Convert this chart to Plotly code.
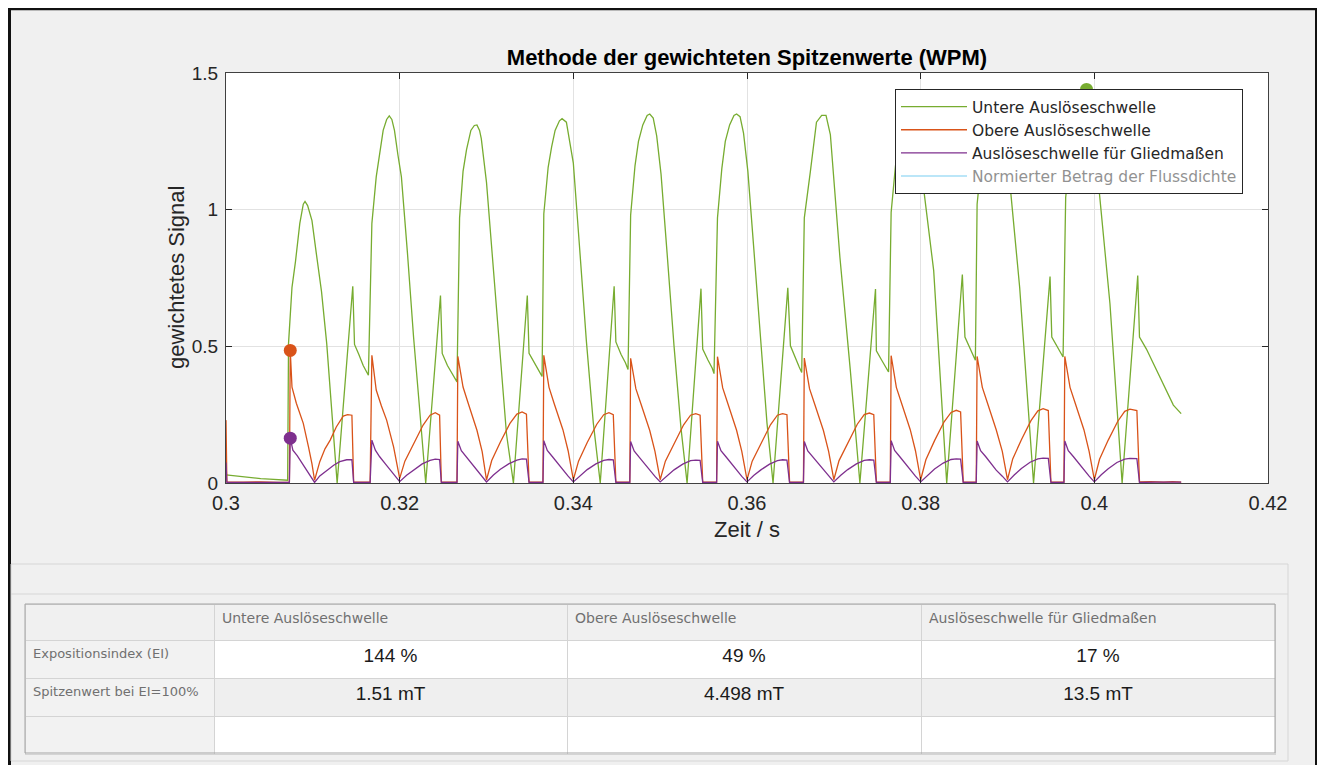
import plotly.graph_objects as go

# --- data ------------------------------------------------------------------
GREEN = [
    (0.3000, 0.030), (0.3010, 0.026), (0.3020, 0.022), (0.3030, 0.019), (0.3040, 0.016),
    (0.3050, 0.014), (0.3060, 0.012), (0.3071, 0.010),
    (0.3072, 0.510), (0.3076, 0.716), (0.3080, 0.810), (0.3085, 0.950), (0.3089, 1.020),
    (0.3091, 1.030), (0.3094, 1.015), (0.3099, 0.960), (0.3104, 0.840), (0.3110, 0.700),
    (0.3116, 0.510), (0.3122, 0.270), (0.3128, 0.000),
    (0.3146, 0.720), (0.3148, 0.507), (0.3153, 0.470), (0.3158, 0.430), (0.3164, 0.394),
    (0.3168, 0.950), (0.3173, 1.120), (0.3177, 1.210), (0.3181, 1.290), (0.3185, 1.330),
    (0.3188, 1.343), (0.3191, 1.330), (0.3194, 1.290), (0.3198, 1.200), (0.3202, 1.120),
    (0.3209, 0.840), (0.3216, 0.534), (0.3223, 0.270), (0.3230, 0.000),
    (0.3247, 0.686), (0.3249, 0.474), (0.3255, 0.430), (0.3261, 0.400), (0.3266, 0.370),
    (0.3269, 0.970), (0.3273, 1.140), (0.3277, 1.220), (0.3282, 1.290), (0.3286, 1.308),
    (0.3289, 1.310), (0.3292, 1.290), (0.3294, 1.260), (0.3300, 1.100), (0.3307, 0.820),
    (0.3315, 0.470), (0.3323, 0.180), (0.3331, 0.000),
    (0.3347, 0.686), (0.3349, 0.474), (0.3355, 0.440), (0.3360, 0.410), (0.3364, 0.390),
    (0.3366, 0.985), (0.3371, 1.155), (0.3375, 1.230), (0.3379, 1.290), (0.3384, 1.325),
    (0.3387, 1.333), (0.3392, 1.320), (0.3396, 1.250), (0.3400, 1.170), (0.3407, 0.870),
    (0.3415, 0.520), (0.3423, 0.220), (0.3431, 0.000),
    (0.3447, 0.720), (0.3449, 0.516), (0.3455, 0.470), (0.3460, 0.440), (0.3463, 0.415),
    (0.3466, 0.980), (0.3471, 1.160), (0.3475, 1.250), (0.3480, 1.310), (0.3485, 1.345),
    (0.3488, 1.350), (0.3492, 1.335), (0.3496, 1.270), (0.3501, 1.130), (0.3508, 0.840),
    (0.3516, 0.500), (0.3524, 0.200), (0.3531, 0.000),
    (0.3547, 0.711), (0.3549, 0.490), (0.3555, 0.450), (0.3560, 0.420), (0.3562, 0.400),
    (0.3566, 0.970), (0.3571, 1.150), (0.3575, 1.250), (0.3580, 1.310), (0.3585, 1.345),
    (0.3588, 1.350), (0.3592, 1.340), (0.3596, 1.280), (0.3601, 1.140), (0.3608, 0.850),
    (0.3616, 0.500), (0.3623, 0.220), (0.3630, 0.000),
    (0.3647, 0.714), (0.3650, 0.502), (0.3655, 0.460), (0.3660, 0.425), (0.3663, 0.404),
    (0.3666, 0.970), (0.3673, 1.140), (0.3680, 1.320), (0.3686, 1.345), (0.3691, 1.345),
    (0.3696, 1.275), (0.3707, 0.826), (0.3719, 0.412), (0.3730, 0.000),
    (0.3748, 0.710), (0.3749, 0.484), (0.3755, 0.450), (0.3760, 0.425), (0.3763, 0.406),
    (0.3766, 0.990), (0.3771, 1.160), (0.3776, 1.260), (0.3781, 1.320), (0.3786, 1.350),
    (0.3790, 1.355), (0.3794, 1.330), (0.3798, 1.260), (0.3803, 1.088), (0.3815, 0.777),
    (0.3830, 0.000),
    (0.3848, 0.763), (0.3851, 0.534), (0.3856, 0.500), (0.3860, 0.470), (0.3863, 0.449),
    (0.3865, 1.020), (0.3870, 1.180), (0.3875, 1.280), (0.3880, 1.340), (0.3885, 1.375),
    (0.3889, 1.380), (0.3893, 1.350), (0.3897, 1.260), (0.3903, 1.088), (0.3914, 0.716),
    (0.3930, 0.000),
    (0.3949, 0.755), (0.3951, 0.534), (0.3956, 0.505), (0.3960, 0.480), (0.3964, 0.461),
    (0.3967, 1.045), (0.3972, 1.200), (0.3977, 1.320), (0.3982, 1.400), (0.3987, 1.435),
    (0.3991, 1.440), (0.3995, 1.425), (0.4000, 1.320), (0.4005, 1.088), (0.4018, 0.656),
    (0.4032, 0.000),
    (0.4050, 0.759), (0.4052, 0.534), (0.4060, 0.490), (0.4068, 0.437), (0.4076, 0.385),
    (0.4083, 0.339), (0.4091, 0.285), (0.4100, 0.254),
]

ORANGE = [
    (0.3000, 0.230), (0.3001, 0.004), (0.3020, 0.003), (0.3040, 0.004), (0.3060, 0.002),
    (0.3073, 0.003),
    (0.3074, 0.485), (0.3076, 0.351), (0.3081, 0.292), (0.3085, 0.255), (0.3089, 0.218),
    (0.3095, 0.132), (0.3099, 0.070), (0.3102, 0.010),
    (0.3108, 0.078), (0.3114, 0.125), (0.3120, 0.157), (0.3127, 0.205), (0.3135, 0.245),
    (0.3140, 0.250), (0.3145, 0.248), (0.3147, 0.004), (0.3156, 0.003), (0.3166, 0.003),
    (0.3168, 0.467), (0.3173, 0.340), (0.3179, 0.282), (0.3185, 0.230), (0.3193, 0.132),
    (0.3200, 0.017),
    (0.3206, 0.080), (0.3216, 0.145), (0.3227, 0.212), (0.3235, 0.248), (0.3241, 0.257),
    (0.3246, 0.248), (0.3248, 0.004), (0.3257, 0.003), (0.3266, 0.003),
    (0.3267, 0.463), (0.3273, 0.351), (0.3279, 0.291), (0.3289, 0.193), (0.3295, 0.115),
    (0.3300, 0.011),
    (0.3306, 0.082), (0.3316, 0.150), (0.3327, 0.218), (0.3335, 0.252), (0.3341, 0.260),
    (0.3346, 0.252), (0.3349, 0.004), (0.3357, 0.003), (0.3365, 0.003),
    (0.3366, 0.467), (0.3372, 0.350), (0.3378, 0.290), (0.3388, 0.195), (0.3394, 0.118),
    (0.3400, 0.012),
    (0.3406, 0.080), (0.3416, 0.148), (0.3427, 0.215), (0.3435, 0.250), (0.3441, 0.257),
    (0.3446, 0.250), (0.3449, 0.004), (0.3457, 0.003), (0.3465, 0.003),
    (0.3466, 0.456), (0.3472, 0.345), (0.3478, 0.288), (0.3488, 0.192), (0.3494, 0.116),
    (0.3500, 0.012),
    (0.3506, 0.080), (0.3516, 0.146), (0.3527, 0.213), (0.3535, 0.248), (0.3541, 0.254),
    (0.3546, 0.248), (0.3549, 0.004), (0.3557, 0.003), (0.3565, 0.003),
    (0.3566, 0.462), (0.3572, 0.348), (0.3578, 0.290), (0.3588, 0.193), (0.3594, 0.116),
    (0.3600, 0.012),
    (0.3606, 0.080), (0.3616, 0.146), (0.3627, 0.213), (0.3635, 0.248), (0.3641, 0.254),
    (0.3646, 0.250), (0.3649, 0.004), (0.3657, 0.003), (0.3665, 0.003),
    (0.3666, 0.457), (0.3672, 0.345), (0.3678, 0.288), (0.3688, 0.192), (0.3694, 0.116),
    (0.3700, 0.012),
    (0.3706, 0.082), (0.3716, 0.148), (0.3727, 0.215), (0.3735, 0.250), (0.3741, 0.256),
    (0.3746, 0.250), (0.3749, 0.004), (0.3757, 0.003), (0.3765, 0.003),
    (0.3766, 0.466), (0.3772, 0.350), (0.3778, 0.292), (0.3788, 0.195), (0.3794, 0.118),
    (0.3800, 0.012),
    (0.3806, 0.085), (0.3816, 0.155), (0.3827, 0.224), (0.3835, 0.258), (0.3841, 0.266),
    (0.3846, 0.260), (0.3849, 0.004), (0.3857, 0.003), (0.3864, 0.003),
    (0.3865, 0.463), (0.3871, 0.350), (0.3877, 0.292), (0.3887, 0.195), (0.3894, 0.116),
    (0.3900, 0.012),
    (0.3906, 0.088), (0.3916, 0.158), (0.3927, 0.228), (0.3935, 0.264), (0.3941, 0.272),
    (0.3947, 0.265), (0.3950, 0.004), (0.3958, 0.003), (0.3965, 0.003),
    (0.3966, 0.463), (0.3972, 0.350), (0.3978, 0.292), (0.3988, 0.195), (0.3994, 0.116),
    (0.4000, 0.012),
    (0.4006, 0.087), (0.4016, 0.157), (0.4027, 0.226), (0.4035, 0.262), (0.4041, 0.270),
    (0.4049, 0.265), (0.4052, 0.004), (0.4065, 0.005), (0.4080, 0.003), (0.4090, 0.005),
    (0.4100, 0.003),
]

PURPLE = [
    (0.3000, 0.075), (0.3001, 0.002), (0.3030, 0.002), (0.3060, 0.001), (0.3073, 0.002),
    (0.3074, 0.164), (0.3077, 0.120), (0.3082, 0.100), (0.3089, 0.066), (0.3095, 0.040),
    (0.3102, 0.002),
    (0.3108, 0.026), (0.3116, 0.047), (0.3124, 0.065), (0.3131, 0.078), (0.3139, 0.085),
    (0.3145, 0.085), (0.3147, 0.002), (0.3166, 0.002),
    (0.3168, 0.157), (0.3172, 0.120), (0.3177, 0.096), (0.3184, 0.068), (0.3189, 0.047),
    (0.3195, 0.025), (0.3200, 0.005),
    (0.3208, 0.028), (0.3216, 0.048), (0.3226, 0.070), (0.3235, 0.083), (0.3241, 0.087),
    (0.3246, 0.086), (0.3248, 0.002), (0.3266, 0.002),
    (0.3267, 0.153), (0.3271, 0.118), (0.3277, 0.095), (0.3284, 0.067), (0.3289, 0.046),
    (0.3295, 0.024), (0.3300, 0.004),
    (0.3308, 0.029), (0.3316, 0.050), (0.3326, 0.071), (0.3335, 0.084), (0.3341, 0.088),
    (0.3346, 0.087), (0.3349, 0.002), (0.3365, 0.002),
    (0.3366, 0.155), (0.3370, 0.119), (0.3376, 0.096), (0.3383, 0.067), (0.3388, 0.047),
    (0.3394, 0.025), (0.3400, 0.004),
    (0.3408, 0.028), (0.3416, 0.049), (0.3426, 0.070), (0.3435, 0.083), (0.3441, 0.086),
    (0.3446, 0.085), (0.3449, 0.002), (0.3465, 0.002),
    (0.3466, 0.152), (0.3470, 0.117), (0.3476, 0.094), (0.3483, 0.066), (0.3488, 0.046),
    (0.3494, 0.024), (0.3500, 0.004),
    (0.3508, 0.027), (0.3516, 0.048), (0.3526, 0.069), (0.3535, 0.082), (0.3541, 0.084),
    (0.3546, 0.083), (0.3549, 0.002), (0.3565, 0.002),
    (0.3566, 0.153), (0.3570, 0.118), (0.3576, 0.095), (0.3583, 0.067), (0.3588, 0.046),
    (0.3594, 0.024), (0.3600, 0.004),
    (0.3608, 0.028), (0.3616, 0.048), (0.3626, 0.069), (0.3635, 0.082), (0.3641, 0.085),
    (0.3646, 0.084), (0.3649, 0.002), (0.3665, 0.002),
    (0.3666, 0.152), (0.3670, 0.117), (0.3676, 0.094), (0.3683, 0.066), (0.3688, 0.046),
    (0.3694, 0.024), (0.3700, 0.004),
    (0.3708, 0.028), (0.3716, 0.049), (0.3726, 0.070), (0.3735, 0.083), (0.3741, 0.085),
    (0.3746, 0.084), (0.3749, 0.002), (0.3765, 0.002),
    (0.3766, 0.155), (0.3770, 0.119), (0.3776, 0.096), (0.3783, 0.067), (0.3788, 0.047),
    (0.3794, 0.025), (0.3800, 0.004),
    (0.3808, 0.029), (0.3816, 0.051), (0.3826, 0.073), (0.3835, 0.086), (0.3841, 0.088),
    (0.3846, 0.087), (0.3849, 0.002), (0.3864, 0.002),
    (0.3865, 0.154), (0.3869, 0.118), (0.3875, 0.096), (0.3882, 0.067), (0.3887, 0.047),
    (0.3894, 0.025), (0.3900, 0.004),
    (0.3908, 0.030), (0.3916, 0.053), (0.3926, 0.076), (0.3935, 0.088), (0.3941, 0.091),
    (0.3947, 0.090), (0.3950, 0.002), (0.3965, 0.002),
    (0.3966, 0.154), (0.3970, 0.118), (0.3976, 0.096), (0.3983, 0.067), (0.3988, 0.047),
    (0.3994, 0.025), (0.4000, 0.004),
    (0.4008, 0.030), (0.4016, 0.052), (0.4026, 0.075), (0.4035, 0.087), (0.4041, 0.090),
    (0.4049, 0.089), (0.4052, 0.002), (0.4070, 0.003), (0.4085, 0.002), (0.4100, 0.003),
]

# peak markers (time, value) for each threshold
PEAK_T = [0.3991, 0.3074, 0.3074]
PEAK_V = [1.440, 0.485, 0.164]

SERIES_NAMES = [
    "Untere Auslöseschwelle",
    "Obere Auslöseschwelle",
    "Auslöseschwelle für Gliedmaßen",
    "Normierter Betrag der Flussdichte",
]
COLORS = ["#77AC30", "#D95319", "#7E2F8E", "#4DBEEE"]

X_TICKS = [0.30, 0.32, 0.34, 0.36, 0.38, 0.40, 0.42]
X_LABELS = ["0.3", "0.32", "0.34", "0.36", "0.38", "0.4", "0.42"]
Y_TICKS = [0, 0.5, 1, 1.5]
Y_LABELS = ["0", "0.5", "1", "1.5"]

ROW_LABELS = ["Expositionsindex (EI)", "Spitzenwert bei EI=100%", ""]
COL_UNTERE = ["144 %", "1.51 mT", ""]
COL_OBERE = ["49 %", "4.498 mT", ""]
COL_GLIED = ["17 %", "13.5 mT", ""]

# the page body adds an 8px margin, so the figure starts at (8, 8) of the window
OFF = 8
W, H = 1325 - OFF, 765 - OFF
FONT = "Liberation Sans, Arial, sans-serif"
WIDE = "DejaVu Sans, Verdana, sans-serif"


def fx(px):
    # window pixel -> paper fraction
    return (px - OFF) / W


def fy(py):
    return 1 - (py - OFF) / H


fig = go.Figure()

for pts, name, color in zip([GREEN, ORANGE, PURPLE], SERIES_NAMES, COLORS):
    fig.add_trace(go.Scatter(
        x=[p[0] for p in pts], y=[p[1] for p in pts],
        mode="lines", name=name,
        line=dict(color=color, width=1.3),
    ))

# hidden series, only listed (greyed out) in the legend
fig.add_trace(go.Scatter(
    x=[0.3], y=[None], mode="lines", name=SERIES_NAMES[3],
    line=dict(color=COLORS[3], width=1.3), visible="legendonly",
))

fig.add_trace(go.Scatter(
    x=PEAK_T, y=PEAK_V, mode="markers", showlegend=False,
    marker=dict(color=COLORS[:3], size=13),
))

# result table
cell_fill = [
    ["#f2f2f2"] * 3,
    ["#ffffff", "#efefef", "#ffffff"],
    ["#ffffff", "#efefef", "#ffffff"],
    ["#ffffff", "#efefef", "#ffffff"],
]
fig.add_trace(go.Table(
    domain=dict(x=[fx(25), fx(1275)], y=[fy(756), fy(604)]),
    columnwidth=[189, 353, 354, 354],
    header=dict(
        values=[""] + SERIES_NAMES[:3],
        align="left", height=36,
        fill_color="#f0f0f0",
        line=dict(color="#d4d4d4", width=1),
        font=dict(family=WIDE, size=14, color="#707070"),
    ),
    cells=dict(
        values=[ROW_LABELS, COL_UNTERE, COL_OBERE, COL_GLIED],
        align=["left", "center", "center", "center"], height=38,
        fill_color=cell_fill,
        line=dict(color="#d4d4d4", width=1),
        font=dict(family=[WIDE, FONT, FONT, FONT], size=[13, 19, 19, 19],
                  color=["#707070", "#1a1a1a", "#1a1a1a", "#1a1a1a"]),
    ),
))

axis_common = dict(
    showgrid=True, gridcolor="#e2e2e2", gridwidth=1,
    showline=True, linecolor="#404040", linewidth=1, mirror="ticks",
    ticks="inside", ticklen=6, tickcolor="#262626",
    zeroline=False, automargin=False,
)

fig.update_xaxes(
    range=[0.3, 0.42], tickvals=X_TICKS, ticktext=X_LABELS,
    domain=[fx(226), fx(1268)], ticklabelstandoff=2,
    tickfont=dict(family=FONT, size=20, color="#262626"),
    **axis_common,
)
fig.update_yaxes(
    range=[0, 1.5], tickvals=Y_TICKS, ticktext=Y_LABELS,
    domain=[fy(483), fy(73)], ticklabelstandoff=3,
    tickfont=dict(family=FONT, size=19, color="#262626"),
    **axis_common,
)

P = dict(xref="paper", yref="paper")
frame_shapes = [
    # shadow on the right of the window frame
    dict(type="rect", x0=fx(1318), x1=fx(1320), y0=0, y1=fy(9), fillcolor="#8a8a8a", line_width=0, **P),
    dict(type="rect", x0=fx(1320), x1=1, y0=0, y1=fy(10), fillcolor="#d2d2d2", line_width=0, **P),
    dict(type="rect", x0=fx(1318), x1=1, y0=fy(9), y1=1, fillcolor="white", line_width=0, **P),
    # black window frame
    dict(type="line", x0=fx(9.5), x1=fx(9.5), y0=0, y1=1, line=dict(color="#111111", width=3), **P),
    dict(type="line", x0=fx(8), x1=fx(1318), y0=fy(9), y1=fy(9), line=dict(color="#111111", width=2.5), **P),
    dict(type="line", x0=fx(1316.5), x1=fx(1316.5), y0=0, y1=fy(8), line=dict(color="#111111", width=3), **P),
    # lower panel
    dict(type="rect", x0=fx(11), x1=fx(1288), y0=fy(761), y1=fy(564),
         line=dict(color="#d6d6d6", width=1), **P),
    dict(type="line", x0=fx(11), x1=fx(1288), y0=fy(594), y1=fy(594),
         line=dict(color="#d6d6d6", width=1), **P),
    # table outline
    dict(type="rect", x0=fx(25), x1=fx(1275), y0=fy(753), y1=fy(604),
         line=dict(color="#a5a5a5", width=1), **P),
]

fig.update_layout(
    width=W, height=H,
    margin=dict(l=0, r=0, t=0, b=0),
    paper_bgcolor="#f0f0f0",
    plot_bgcolor="white",
    font=dict(family=FONT, color="#262626"),
    title=dict(
        text="<b>Methode der gewichteten Spitzenwerte (WPM)</b>",
        x=fx(747), y=fy(57), xref="paper", yref="paper",
        xanchor="center", yanchor="middle",
        font=dict(family=FONT, size=22, color="#000000"),
    ),
    legend=dict(
        x=fx(895), y=fy(89), xanchor="left", yanchor="top",
        bgcolor="white", bordercolor="#262626", borderwidth=1,
        font=dict(family=WIDE, size=15.5, color="#262626"),
        itemwidth=66, tracegroupgap=0,
    ),
    annotations=[
        dict(text="Zeit / s", x=fx(747), y=fy(529), showarrow=False,
             xanchor="center", yanchor="middle",
             font=dict(family=FONT, size=22, color="#262626"), **P),
        dict(text="gewichtetes Signal", x=fx(176), y=fy(278), showarrow=False,
             textangle=-90, xanchor="center", yanchor="middle",
             font=dict(family=FONT, size=22, color="#262626"), **P),
    ],
    shapes=frame_shapes,
)

fig.write_html("out.html")
